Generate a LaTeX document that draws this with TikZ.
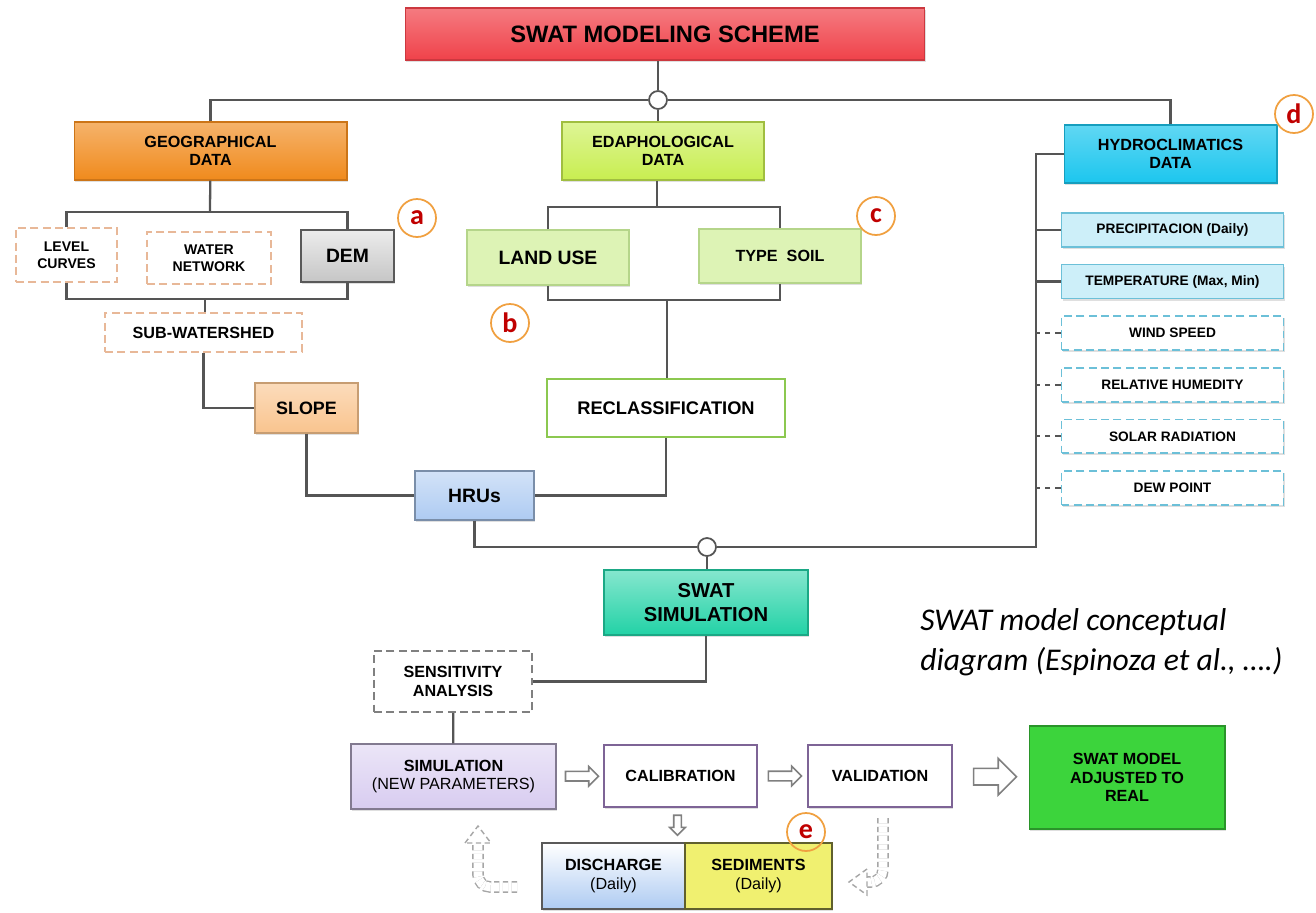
\documentclass[tikz,border=0pt]{standalone}
\usepackage{fontspec}
\setmainfont{Liberation Sans}
\newfontfamily\captfont{Carlito}
\usetikzlibrary{positioning,shapes.arrows,shadows,calc}

\definecolor{linegray}{HTML}{555555}
\definecolor{titlered}{HTML}{F0424A}
\definecolor{geoorange}{HTML}{F08A1C}
\definecolor{edaphgreen}{HTML}{C8EE50}
\definecolor{hydroblue}{HTML}{1CC6EE}
\definecolor{hydrolight}{HTML}{CDEFF9}
\definecolor{hydroline}{HTML}{6CC0D8}
\definecolor{dashorange}{HTML}{E8B898}
\definecolor{soilgreen}{HTML}{DDF3B5}
\definecolor{soilline}{HTML}{B5D58A}
\definecolor{slopeorange}{HTML}{F9C48E}
\definecolor{hrublue}{HTML}{AECBF2}
\definecolor{reclassgreen}{HTML}{8CC850}
\definecolor{simteal}{HTML}{22D2A6}
\definecolor{simpurple}{HTML}{D8CCF0}
\definecolor{flowpurple}{HTML}{7E6496}
\definecolor{realgreen}{HTML}{3CD43C}
\definecolor{sedyellow}{HTML}{F0F070}
\definecolor{tagorange}{HTML}{F0A040}
\definecolor{tagred}{HTML}{C00000}

\begin{document}
\begin{tikzpicture}[
    x=0.02cm, y=-0.02cm,
    node distance=0.32cm,
    box/.style={rectangle, draw, align=center, inner sep=2pt, line width=0.6pt,
                font=\bfseries\fontsize{9.2}{10.6}\selectfont},
    boxshadow/.style={drop shadow={opacity=0.25, shadow xshift=0.8pt, shadow yshift=-1.2pt}},
    databox/.style={box, boxshadow, minimum height=1.16cm},
    dashbox/.style={box, fill=white, draw=dashorange, line width=1.1pt,
                    dash pattern=on 4.5pt off 2.5pt},
    hydroitem/.style={box, boxshadow, minimum width=4.44cm, minimum height=0.68cm,
                      fill=hydrolight, draw=hydroline, line width=0.9pt,
                      font=\bfseries\fontsize{7.8}{9}\selectfont},
    hydrodash/.style={hydroitem, fill=white, dash pattern=on 4.5pt off 2.5pt},
    flowbox/.style={box, boxshadow, fill=white, draw=flowpurple, line width=1.5pt,
                    minimum height=1.24cm},
    link/.style={draw=linegray, line width=1.3pt},
    junction/.style={circle, draw=linegray, fill=white, line width=1pt,
                     minimum size=0.36cm, inner sep=0pt},
    tag/.style={circle, draw=tagorange, line width=1pt, minimum size=0.76cm, inner sep=0pt,
                text=tagred, font=\captfont\bfseries\fontsize{16}{16}\selectfont},
    blockarrow/.style={single arrow, draw=gray, fill=white, line width=0.9pt,
                       minimum height=0.66cm, minimum width=0pt, inner xsep=0pt,
                       inner ysep=0.08cm, single arrow head extend=0.1cm},
    loopback/.style={draw=gray!70, line width=0.8pt, dash pattern=on 3pt off 2pt,
                     double=white, double distance=5pt, rounded corners=7pt},
    loophead/.style={draw=gray!70, fill=white, line width=0.8pt, dash pattern=on 3pt off 2pt}
  ]
\useasboundingbox (0,0) rectangle (1316,913);

% Nodes
\node[box, boxshadow, minimum width=10.4cm, minimum height=1.04cm, draw=titlered!85!black,
      top color=titlered!70!white, bottom color=titlered,
      font=\bfseries\fontsize{13.5}{15}\selectfont] (title) at (665,34) {SWAT MODELING SCHEME};
\node[junction] (j1) at (658,100) {};

\node[databox, minimum width=5.46cm, draw=geoorange!85!black,
      top color=geoorange!65!white, bottom color=geoorange] (geo) at (210.5,151) {GEOGRAPHICAL\\DATA};
\node[databox, minimum width=4.04cm, draw=edaphgreen!80!black,
      top color=edaphgreen!60!white, bottom color=edaphgreen] (edaph) at (663,151) {EDAPHOLOGICAL\\DATA};
\node[databox, minimum width=4.26cm, draw=hydroblue!80!black,
      top color=hydroblue!70!white, bottom color=hydroblue] (hydro) at (1170.5,154) {HYDROCLIMATICS\\DATA};

\node[dashbox, minimum width=2.02cm, minimum height=1.08cm,
      font=\bfseries\fontsize{8}{9.6}\selectfont] (level) at (66.5,255) {LEVEL\\CURVES};
\node[dashbox, minimum width=2.48cm, minimum height=1.04cm,
      font=\bfseries\fontsize{8}{9.6}\selectfont] (water) at (209,258) {WATER\\NETWORK};
\node[box, boxshadow, minimum width=1.86cm, minimum height=1.04cm, draw=black!65,
      top color=gray!15, bottom color=gray!45,
      font=\bfseries\fontsize{11}{13}\selectfont] (dem) at (347.5,256) {DEM};
\node[dashbox, minimum width=3.94cm, minimum height=0.78cm] (subw) at (203.5,332.5) {SUB-WATERSHED};
\node[box, boxshadow, minimum width=2.06cm, minimum height=1cm, draw=slopeorange!80!black,
      top color=slopeorange!60!white, bottom color=slopeorange,
      font=\bfseries\fontsize{10.2}{12}\selectfont] (slope) at (306.5,408) {SLOPE};
\node[box, boxshadow, minimum width=2.38cm, minimum height=0.98cm, draw=hrublue!70!black,
      top color=hrublue!55!white, bottom color=hrublue,
      font=\bfseries\fontsize{11}{13}\selectfont] (hrus) at (474.5,495.5) {HRUs};

\node[box, boxshadow, minimum width=3.24cm, minimum height=1.1cm, draw=soilline, fill=soilgreen,
      font=\bfseries\fontsize{11}{13}\selectfont] (landuse) at (548,257.5) {LAND USE};
\node[box, boxshadow, minimum width=3.24cm, minimum height=1.08cm, draw=soilline,
      fill=soilgreen] (typesoil) at (780,256) {TYPE~~SOIL};
\node[box, minimum width=4.76cm, minimum height=1.16cm, draw=reclassgreen, fill=white,
      line width=1.6pt, font=\bfseries\fontsize{10.4}{12}\selectfont] (reclass) at (666,408) {RECLASSIFICATION};

\node[hydroitem] (precip) at (1172.5,230) {PRECIPITACION (Daily)};
\node[hydroitem, below=of precip] (temp) {TEMPERATURE (Max, Min)};
\node[hydrodash, below=of temp] (wind) {WIND SPEED};
\node[hydrodash, below=of wind] (humid) {RELATIVE HUMEDITY};
\node[hydrodash, below=of humid] (solar) {SOLAR RADIATION};
\node[hydrodash, below=of solar] (dew) {DEW POINT};

\node[junction] (j2) at (707,547) {};
\node[box, boxshadow, minimum width=4.08cm, minimum height=1.3cm, draw=simteal!80!black,
      top color=simteal!55!white, bottom color=simteal,
      font=\bfseries\fontsize{11.5}{13.5}\selectfont] (swatsim) at (706,602.5) {SWAT\\SIMULATION};
\node[box, minimum width=3.16cm, minimum height=1.22cm, draw=gray, fill=white, line width=1.1pt,
      dash pattern=on 4.5pt off 2.5pt] (sens) at (453,681.5) {SENSITIVITY\\ANALYSIS};
\node[box, boxshadow, minimum width=4.1cm, minimum height=1.3cm, draw=simpurple!60!black,
      top color=simpurple!50!white, bottom color=simpurple] (simul) at (453.5,776.5)
      {SIMULATION\\{\mdseries (NEW PARAMETERS)}};
\node[flowbox, minimum width=3.06cm] (calib) at (680.5,776) {CALIBRATION};
\node[flowbox, minimum width=2.88cm] (valid) at (880,776) {VALIDATION};
\node[box, boxshadow, minimum width=3.92cm, minimum height=2.06cm, draw=realgreen!70!black,
      fill=realgreen] (adjusted) at (1127,777.5) {SWAT MODEL\\ADJUSTED TO\\REAL};
\node[box, boxshadow, minimum width=2.86cm, minimum height=1.32cm, draw=gray!70!black,
      top color=white, bottom color=hrublue] (discharge) at (613.5,876) {DISCHARGE\\{\mdseries (Daily)}};
\node[box, boxshadow, minimum width=2.94cm, minimum height=1.32cm, draw=sedyellow!40!black,
      line width=1pt, fill=sedyellow] (sediments) at (758.5,876) {SEDIMENTS\\{\mdseries (Daily)}};

\node[anchor=north west, align=left, inner sep=0pt,
      font=\captfont\itshape\fontsize{18}{22.6}\selectfont] (caption) at (920,608)
      {SWAT model conceptual\\diagram (Espinoza et al., ….)};

\node[tag] (taga) at (417,218) {a};
\node[tag] (tagb) at (510,323) {b};
\node[tag] (tagc) at (876,216) {c};
\node[tag] (tagd) at (1294,114) {d};
\node[tag] (tage) at (806,832) {e};

% Edges
\coordinate (gtop) at (210,212);
\coordinate (gbot) at (205,299);
\coordinate (etop) at (657,207);
\coordinate (ebot) at (667,300);
\coordinate (htrunk) at (1036,0);

\draw[link] (j1) -- (j1 |- title.south);
\draw[link] (geo.north) |- (j1);
\draw[link] (hydro.north) |- (j1);
\draw[link] (j1) -- (j1 |- edaph.north);

\draw[link] (geo) -- (gtop);
\draw[link] (level.north) |- (gtop) -| (dem.north);
\draw[link] (level.south) |- (gbot) -| (dem.south);
\draw[link] (gbot) -- (gbot |- subw.north);
\draw[link] (subw.south) |- (slope.west);
\draw[link] (slope.south) |- (hrus.west);

\draw[link] (etop |- edaph.south) -- (etop);
\draw[link] (landuse.north) |- (etop) -| (typesoil.north);
\draw[link] (landuse.south) |- (ebot) -| (typesoil.south);
\draw[link] (ebot) -- (ebot |- reclass.north);
\draw[link] (reclass.south) |- (hrus.east);

\draw[link] (hydro.west) -- (hydro.west -| htrunk) |- (j2);
\foreach \item/\kind in {precip/solid, temp/solid, wind/dashed, humid/dashed, solar/dashed, dew/dashed}
  \draw[link, \kind] (\item.west) -- (\item.west -| htrunk);
\draw[link] (hrus.south) |- (j2);
\draw[link] (j2) -- (j2 |- swatsim.north);

\draw[link] (swatsim.south) |- (sens.east);
\draw[link] (sens) -- (simul);

\path (simul) -- node[blockarrow] (arr1) {} (calib);
\path (calib) -- node[blockarrow] (arr2) {} (valid);
\path (valid) -- node[blockarrow, minimum height=0.86cm, inner ysep=0.15cm,
                     single arrow head extend=0.2cm] (arr3) {} (adjusted);
\node[blockarrow, rotate=-90, minimum height=0.4cm, inner ysep=0.06cm,
      single arrow head extend=0.08cm] (arr4) at ($(calib.south)+(-3,15)$) {};

% loop-back arrows
\coordinate (lstart) at (517,887);
\coordinate (lend) at (478,842);
\coordinate (rstart) at (883,818);
\coordinate (rend) at (866,882);
\draw[loopback] (lstart) -- (lstart -| lend) -- (lend);
\draw[loophead] ($(lend)+(-13,1)$) -- ($(lend)+(0,-16)$) -- ($(lend)+(13,1)$) -- cycle;
\draw[loopback] (rstart) -- (rstart |- rend) -- (rend);
\draw[loophead] ($(rend)+(1,-13)$) -- ($(rend)+(-17,0)$) -- ($(rend)+(1,13)$) -- cycle;

\end{tikzpicture}
\end{document}
